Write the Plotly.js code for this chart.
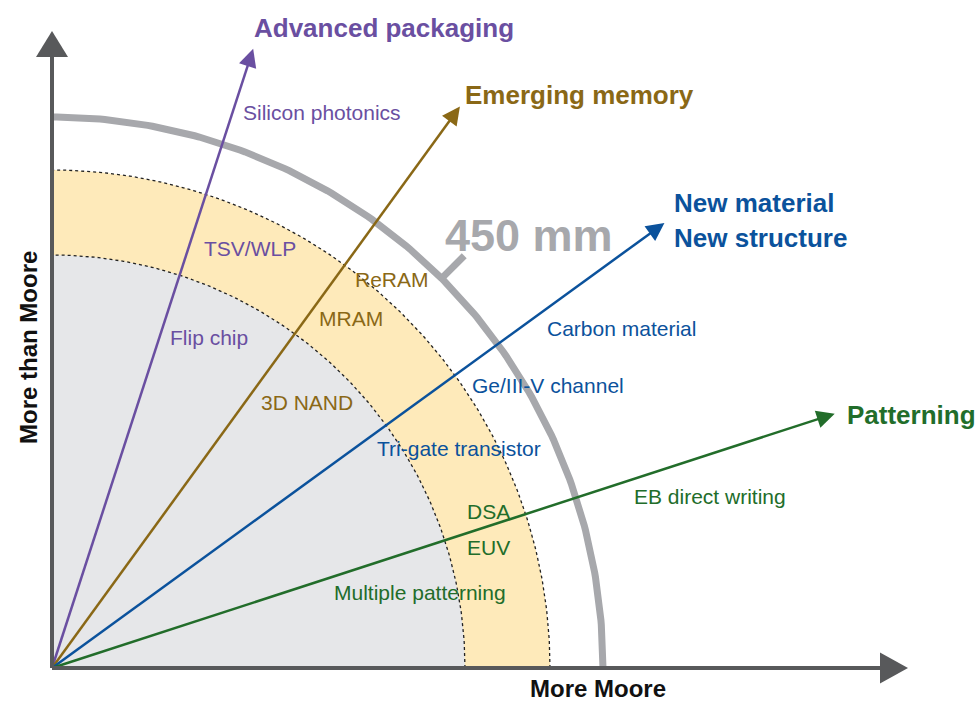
<!DOCTYPE html>
<html>
<head>
<meta charset="utf-8">
<script src="https://cdn.plot.ly/plotly-3.0.1.min.js"></script>
<style>html,body{margin:0;padding:0;background:#fff;}#chart{width:979px;height:703px;}</style>
</head>
<body>
<div id="chart"></div>
<script>
// ---- data (units: diagram units, origin at axes corner) ----
const directionNames = ['Advanced packaging', 'Emerging memory', 'New material', 'Patterning'];
const directionSubNames = ['', '', 'New structure', ''];
const directionAngles = [72, 54, 36, 18];          // degrees from "More Moore" axis
const directionLengths = [651, 694, 757, 823];     // arrow length
const directionColors = ['#6a4fa1', '#8a6816', '#0b529c', '#226d2a'];

const ringRadii = [413, 498];                      // inner grey region, yellow band
const waferRadius = 551;                           // 450 mm arc
const waferLabel = '450 mm';
const waferTickAngle = 45;

const itemLabels = [
  ['Silicon photonics', 'TSV/WLP', 'Flip chip'],
  ['ReRAM', 'MRAM', '3D NAND'],
  ['Carbon material', 'Ge/III-V channel', 'Tri-gate transistor'],
  ['EB direct writing', 'DSA', 'EUV', 'Multiple patterning']
];
const xAxisTitle = 'More Moore';
const yAxisTitle = 'More than Moore';
const xAxisLength = 856;
const yAxisLength = 637;

// ---- layout positions for labels (left anchor x, middle y) ----
const itemPos = [
  [[189, 556], [150, 420], [116, 331]],
  [[301, 389], [265, 350], [207, 266]],
  [[493, 340], [418, 283], [323, 220]],
  [[580, 172], [413, 157], [413, 121], [280, 76]]
];
const namePos = [[200, 640], [411, 573], [620, 465], [793, 253]];
const subNamePos = [null, null, [620, 430], null];

const FONT = 'Liberation Sans, Arial, Helvetica, sans-serif';
const rad = d => d * Math.PI / 180;

function arcPts(r, a0, a1) {
  const xs = [], ys = [];
  for (let a = a0; a <= a1 + 1e-9; a += 0.5) { xs.push(r * Math.cos(rad(a))); ys.push(r * Math.sin(rad(a))); }
  return [xs, ys];
}
function sector(r) {
  const [xs, ys] = arcPts(r, 0, 90);
  return [[0, ...xs, 0], [0, ...ys, 0]];
}

const traces = [];
// yellow band (outer sector)
let s = sector(ringRadii[1]);
traces.push({x: s[0], y: s[1], mode: 'lines', fill: 'toself', fillcolor: '#feeaba', line: {width: 0}, hoverinfo: 'skip'});
s = sector(ringRadii[0]);
traces.push({x: s[0], y: s[1], mode: 'lines', fill: 'toself', fillcolor: '#e6e7e9', line: {width: 0}, hoverinfo: 'skip'});
ringRadii.forEach(r => {
  const [xs, ys] = arcPts(r, 0, 90);
  traces.push({x: xs, y: ys, mode: 'lines', line: {color: '#222', width: 1.3, dash: '3px,3px'}, hoverinfo: 'skip'});
});
// wafer arc
let w = arcPts(waferRadius, 0, 90);
traces.push({x: w[0], y: w[1], mode: 'lines', line: {color: '#a7a8ac', width: 7}, hoverinfo: 'skip'});
traces.push({
  x: [waferRadius * Math.cos(rad(waferTickAngle)), (waferRadius + 32) * Math.cos(rad(waferTickAngle))],
  y: [waferRadius * Math.sin(rad(waferTickAngle)), (waferRadius + 32) * Math.sin(rad(waferTickAngle))],
  mode: 'lines', line: {color: '#a7a8ac', width: 7}, hoverinfo: 'skip'
});

const shapes = [];
const HEAD_L = 18, HEAD_W = 9;
directionAngles.forEach((a, i) => {
  const c = Math.cos(rad(a)), sn = Math.sin(rad(a));
  const L = directionLengths[i];
  const tx = L * c, ty = L * sn;
  const bx = tx - HEAD_L * c, by = ty - HEAD_L * sn;
  traces.push({x: [0, bx + 2 * c], y: [0, by + 2 * sn], mode: 'lines', line: {color: directionColors[i], width: 2.5}, hoverinfo: 'skip'});
  shapes.push({type: 'path', xref: 'x', yref: 'y',
    path: `M ${tx} ${ty} L ${bx - HEAD_W * sn} ${by + HEAD_W * c} L ${bx + HEAD_W * sn} ${by - HEAD_W * c} Z`,
    fillcolor: directionColors[i], line: {width: 0}});
});

// axes with arrowheads
const AX = '#58595b';
shapes.push({type: 'line', xref: 'x', yref: 'y', x0: 0, y0: 0, x1: xAxisLength - 26, y1: 0, line: {color: AX, width: 4}});
shapes.push({type: 'line', xref: 'x', yref: 'y', x0: 0, y0: 0, x1: 0, y1: yAxisLength - 24, line: {color: AX, width: 4}});
shapes.push({type: 'path', xref: 'x', yref: 'y', path: `M ${xAxisLength} 0 L ${xAxisLength - 28} 15.5 L ${xAxisLength - 28} -15.5 Z`, fillcolor: AX, line: {width: 0}});
shapes.push({type: 'path', xref: 'x', yref: 'y', path: `M 0 ${yAxisLength} L -16 ${yAxisLength - 26} L 16 ${yAxisLength - 26} Z`, fillcolor: AX, line: {width: 0}});

const annotations = [];
directionNames.forEach((n, i) => {
  annotations.push({x: namePos[i][0], y: namePos[i][1], xref: 'x', yref: 'y', text: '<b>' + n + '</b>', showarrow: false,
    xanchor: 'left', yanchor: 'middle', font: {family: FONT, size: 26, color: directionColors[i]}});
  if (directionSubNames[i]) {
    annotations.push({x: subNamePos[i][0], y: subNamePos[i][1], xref: 'x', yref: 'y', text: '<b>' + directionSubNames[i] + '</b>', showarrow: false,
      xanchor: 'left', yanchor: 'middle', font: {family: FONT, size: 26, color: directionColors[i]}});
  }
  itemLabels[i].forEach((t, j) => {
    annotations.push({x: itemPos[i][j][0], y: itemPos[i][j][1], xref: 'x', yref: 'y', text: t, showarrow: false,
      xanchor: 'left', yanchor: 'middle', font: {family: FONT, size: 21, color: directionColors[i]}});
  });
});
annotations.push({x: 477, y: 433, xref: 'x', yref: 'y', text: '<b>' + waferLabel + '</b>', showarrow: false,
  xanchor: 'center', yanchor: 'middle', font: {family: FONT, size: 45, color: '#a7a8ac'}});
annotations.push({x: 546, y: -35, xref: 'x', yref: 'y', text: '<b>' + xAxisTitle + '</b>', showarrow: false,
  xanchor: 'center', yanchor: 'bottom', borderpad: 0, font: {family: FONT, size: 24, color: '#111'}});
annotations.push({x: -24, y: 320, xref: 'x', yref: 'y', text: '<b>' + yAxisTitle + '</b>', showarrow: false, textangle: -90,
  xanchor: 'center', yanchor: 'middle', font: {family: FONT, size: 24, color: '#111'}});

const layout = {
  width: 979, height: 703,
  margin: {l: 0, r: 0, t: 0, b: 0, pad: 0},
  paper_bgcolor: '#ffffff', plot_bgcolor: '#ffffff',
  showlegend: false,
  xaxis: {range: [-52, 927], visible: false, fixedrange: true},
  yaxis: {range: [-35, 668], visible: false, fixedrange: true},
  shapes: shapes,
  annotations: annotations
};
Plotly.newPlot('chart', traces, layout, {displayModeBar: false, staticPlot: true});
</script>
</body>
</html>
